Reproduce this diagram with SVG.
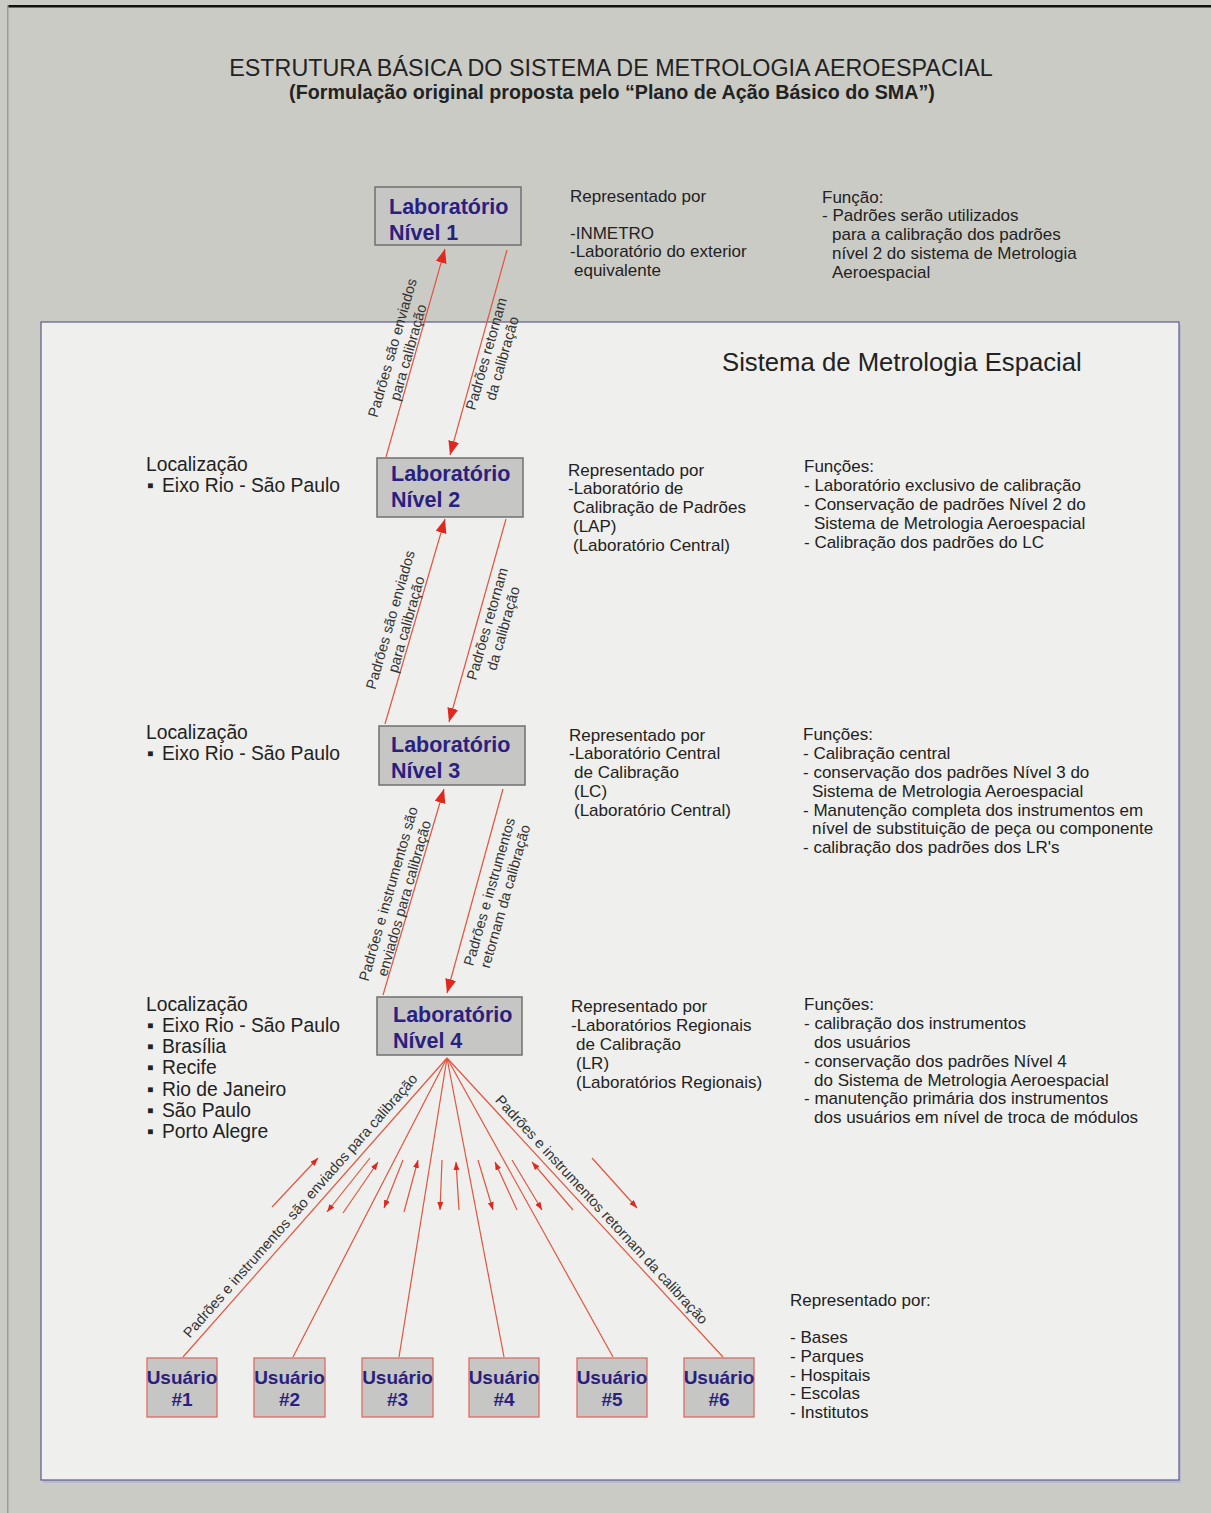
<svg xmlns="http://www.w3.org/2000/svg" width="1211" height="1513" viewBox="0 0 1211 1513">
<style>
.t{font-family:"Liberation Sans",Arial,sans-serif;fill:#222;}
.b{font-size:17px;}
.loc{font-size:19.3px;}
.lab{font-family:"Liberation Sans",Arial,sans-serif;font-size:21.5px;font-weight:bold;fill:#2b1f80;}
.usr{font-family:"Liberation Sans",Arial,sans-serif;font-size:19px;font-weight:bold;fill:#2b1f80;text-anchor:middle;}
.lbl{font-family:"Liberation Sans",Arial,sans-serif;font-size:14.5px;fill:#333;text-anchor:middle;}
.labbox{fill:#c6c6c5;stroke:#707070;stroke-width:1.5;}
.usrbox{fill:#c6c6c5;stroke:#e06a60;stroke-width:1.3;}
.ln{stroke:#e2553f;stroke-width:1.2;fill:none;}
</style>
<defs>
<marker id="big" markerUnits="userSpaceOnUse" markerWidth="16" markerHeight="12" refX="14" refY="5.5" orient="auto">
<path d="M0,0 L14,5.5 L0,11 z" fill="#e0281e"/>
</marker>
<marker id="sm" markerUnits="userSpaceOnUse" markerWidth="9" markerHeight="7" refX="8" refY="3" orient="auto">
<path d="M0,0 L8,3 L0,6 z" fill="#e0281e"/>
</marker>
</defs>

<rect x="0" y="0" width="1211" height="1513" fill="#cbcbc6"/>
<rect x="7" y="5" width="1204" height="2.5" fill="#111"/>
<rect x="7" y="5" width="1.5" height="1508" fill="#9a9a98"/>

<rect x="43" y="325" width="1138" height="1158" fill="#b9b9cc"/>
<rect x="41" y="322" width="1138" height="1158" fill="#efefed" stroke="#5c5c8c" stroke-width="1.2"/>

<g id="title">
<text class="t" x="611" y="76" font-size="23.3" text-anchor="middle" fill="#1e1e1e">ESTRUTURA BÁSICA DO SISTEMA DE METROLOGIA AEROESPACIAL</text>
<text class="t" x="612" y="99" font-size="19.7" font-weight="bold" text-anchor="middle" fill="#1e1e1e">(Formulação original proposta pelo “Plano de Ação Básico do SMA”)</text>
</g>

<text id="sistema" class="t" x="722" y="371" font-size="25.7" fill="#1a1a1a">Sistema de Metrologia Espacial</text>

<g id="connectors">
<path class="ln" d="M386,457 L445,249" marker-end="url(#big)"/>
<path class="ln" d="M507,250 L450,455" marker-end="url(#big)"/>
<path class="ln" d="M385,724 L445,519" marker-end="url(#big)"/>
<path class="ln" d="M506,519 L449,722" marker-end="url(#big)"/>
<path class="ln" d="M383,995 L444,789" marker-end="url(#big)"/>
<path class="ln" d="M503,789 L447,993" marker-end="url(#big)"/>

<path class="ln" d="M447,1058 L183,1357"/>
<path class="ln" d="M447,1058 L293,1357"/>
<path class="ln" d="M447,1058 L399,1357"/>
<path class="ln" d="M447,1058 L504,1357"/>
<path class="ln" d="M447,1058 L613,1357"/>
<path class="ln" d="M447,1058 L723,1357"/>

<path class="ln" d="M272,1207 L318,1158" marker-end="url(#sm)"/>
<path class="ln" d="M370,1158 L327,1212" marker-end="url(#sm)"/>
<path class="ln" d="M343,1213 L378,1162" marker-end="url(#sm)"/>
<path class="ln" d="M403,1160 L384,1208" marker-end="url(#sm)"/>
<path class="ln" d="M404,1212 L418,1160" marker-end="url(#sm)"/>
<path class="ln" d="M442,1160 L440,1210" marker-end="url(#sm)"/>
<path class="ln" d="M459,1210 L456,1162" marker-end="url(#sm)"/>
<path class="ln" d="M478,1160 L493,1210" marker-end="url(#sm)"/>
<path class="ln" d="M517,1210 L495,1162" marker-end="url(#sm)"/>
<path class="ln" d="M512,1160 L542,1210" marker-end="url(#sm)"/>
<path class="ln" d="M573,1210 L532,1162" marker-end="url(#sm)"/>
<path class="ln" d="M592,1158 L637,1208" marker-end="url(#sm)"/>

<text class="lbl" transform="translate(400,350) rotate(-74)"><tspan x="0" y="-3">Padrões são enviados</tspan><tspan x="0" y="13.5">para calibração</tspan></text>
<text class="lbl" transform="translate(494,356) rotate(-74)"><tspan x="0" y="-3">Padrões retornam</tspan><tspan x="0" y="13.5">da calibração</tspan></text>
<text class="lbl" transform="translate(398,622) rotate(-74)"><tspan x="0" y="-3">Padrões são enviados</tspan><tspan x="0" y="13.5">para calibração</tspan></text>
<text class="lbl" transform="translate(495,626) rotate(-74)"><tspan x="0" y="-3">Padrões retornam</tspan><tspan x="0" y="13.5">da calibração</tspan></text>
<text class="lbl" transform="translate(396,896) rotate(-74)"><tspan x="0" y="-3">Padrões e instrumentos são</tspan><tspan x="0" y="13.5">enviados para calibração</tspan></text>
<text class="lbl" transform="translate(497,894) rotate(-74)"><tspan x="0" y="-3">Padrões e instrumentos</tspan><tspan x="0" y="13.5">retornam da  calibração</tspan></text>
<text class="lbl" transform="translate(304,1209) rotate(-48.6)">Padrões e instrumentos são enviados para calibração</text>
<text class="lbl" transform="translate(598,1213) rotate(47.3)">Padrões e instrumentos retornam da calibração</text>
</g>

<g id="lab1">
<rect class="labbox" x="375" y="187" width="146" height="58"/>
<text class="lab" x="389" y="214">Laboratório</text>
<text class="lab" x="389" y="240">Nível 1</text>
</g>
<g id="lab2">
<rect class="labbox" x="377" y="458" width="146" height="59"/>
<text class="lab" x="391" y="481">Laboratório</text>
<text class="lab" x="391" y="507">Nível 2</text>
</g>
<g id="lab3">
<rect class="labbox" x="379" y="726" width="146" height="59"/>
<text class="lab" x="391" y="752">Laboratório</text>
<text class="lab" x="391" y="778">Nível 3</text>
</g>
<g id="lab4">
<rect class="labbox" x="377" y="997" width="145" height="58"/>
<text class="lab" x="393" y="1022">Laboratório</text>
<text class="lab" x="393" y="1048">Nível 4</text>
</g>

<g id="usr1"><rect class="usrbox" x="147" y="1358" width="70" height="59"/><text class="usr" x="182" y="1384">Usuário</text><text class="usr" x="182" y="1406">#1</text></g>
<g id="usr2"><rect class="usrbox" x="254" y="1358" width="71" height="59"/><text class="usr" x="289.5" y="1384">Usuário</text><text class="usr" x="289.5" y="1406">#2</text></g>
<g id="usr3"><rect class="usrbox" x="362" y="1358" width="71" height="59"/><text class="usr" x="397.5" y="1384">Usuário</text><text class="usr" x="397.5" y="1406">#3</text></g>
<g id="usr4"><rect class="usrbox" x="469" y="1358" width="70" height="59"/><text class="usr" x="504" y="1384">Usuário</text><text class="usr" x="504" y="1406">#4</text></g>
<g id="usr5"><rect class="usrbox" x="577" y="1358" width="70" height="59"/><text class="usr" x="612" y="1384">Usuário</text><text class="usr" x="612" y="1406">#5</text></g>
<g id="usr6"><rect class="usrbox" x="684" y="1358" width="70" height="59"/><text class="usr" x="719" y="1384">Usuário</text><text class="usr" x="719" y="1406">#6</text></g>

<g id="info1">
<text class="t b" x="570" y="202">Representado por</text>
<text class="t b" x="570" y="239">-INMETRO</text>
<text class="t b" x="570" y="257">-Laboratório do exterior</text>
<text class="t b" x="574" y="276">equivalente</text>
<text class="t b" x="822" y="203">Função:</text>
<text class="t b" x="822" y="221">- Padrões serão utilizados</text>
<text class="t b" x="832" y="240">para a calibração dos padrões</text>
<text class="t b" x="832" y="259">nível 2 do sistema de Metrologia</text>
<text class="t b" x="832" y="278">Aeroespacial</text>
</g>

<g id="info2">
<text class="t loc" x="146" y="471">Localização</text>
<text class="t loc" x="147" y="492">▪</text><text class="t loc" x="162" y="492">Eixo Rio - São Paulo</text>
<text class="t b" x="568" y="476">Representado por</text>
<text class="t b" x="568" y="494">-Laboratório de</text>
<text class="t b" x="573" y="513">Calibração de Padrões</text>
<text class="t b" x="573" y="532">(LAP)</text>
<text class="t b" x="573" y="551">(Laboratório Central)</text>
<text class="t b" x="804" y="472">Funções:</text>
<text class="t b" x="804" y="491">- Laboratório exclusivo de calibração</text>
<text class="t b" x="804" y="510">- Conservação de padrões Nível 2 do</text>
<text class="t b" x="814" y="529">Sistema de Metrologia Aeroespacial</text>
<text class="t b" x="804" y="548">- Calibração dos padrões do LC</text>
</g>

<g id="info3">
<text class="t loc" x="146" y="739">Localização</text>
<text class="t loc" x="147" y="760">▪</text><text class="t loc" x="162" y="760">Eixo Rio - São Paulo</text>
<text class="t b" x="569" y="741">Representado por</text>
<text class="t b" x="569" y="759">-Laboratório Central</text>
<text class="t b" x="574" y="778">de Calibração</text>
<text class="t b" x="574" y="797">(LC)</text>
<text class="t b" x="574" y="816">(Laboratório Central)</text>
<text class="t b" x="803" y="740">Funções:</text>
<text class="t b" x="803" y="759">- Calibração central</text>
<text class="t b" x="803" y="778">- conservação dos padrões Nível 3 do</text>
<text class="t b" x="812" y="797">Sistema de Metrologia Aeroespacial</text>
<text class="t b" x="803" y="816">- Manutenção completa dos instrumentos em</text>
<text class="t b" x="812" y="834">nível de substituição de peça ou componente</text>
<text class="t b" x="803" y="853">- calibração dos padrões dos LR's</text>
</g>

<g id="info4">
<text class="t loc" x="146" y="1011">Localização</text>
<text class="t loc" x="147" y="1032">▪</text><text class="t loc" x="162" y="1032">Eixo Rio - São Paulo</text>
<text class="t loc" x="147" y="1053">▪</text><text class="t loc" x="162" y="1053">Brasília</text>
<text class="t loc" x="147" y="1074">▪</text><text class="t loc" x="162" y="1074">Recife</text>
<text class="t loc" x="147" y="1096">▪</text><text class="t loc" x="162" y="1096">Rio de Janeiro</text>
<text class="t loc" x="147" y="1117">▪</text><text class="t loc" x="162" y="1117">São Paulo</text>
<text class="t loc" x="147" y="1138">▪</text><text class="t loc" x="162" y="1138">Porto Alegre</text>
<text class="t b" x="571" y="1012">Representado por</text>
<text class="t b" x="571" y="1031">-Laboratórios Regionais</text>
<text class="t b" x="576" y="1050">de Calibração</text>
<text class="t b" x="576" y="1069">(LR)</text>
<text class="t b" x="576" y="1088">(Laboratórios Regionais)</text>
<text class="t b" x="804" y="1010">Funções:</text>
<text class="t b" x="804" y="1029">- calibração dos instrumentos</text>
<text class="t b" x="814" y="1048">dos usuários</text>
<text class="t b" x="804" y="1067">- conservação dos padrões Nível 4</text>
<text class="t b" x="814" y="1086">do Sistema de Metrologia Aeroespacial</text>
<text class="t b" x="804" y="1104">- manutenção primária dos instrumentos</text>
<text class="t b" x="814" y="1123">dos usuários em nível de troca de módulos</text>
</g>

<g id="info5">
<text class="t b" x="790" y="1306">Representado por:</text>
<text class="t b" x="790" y="1343">- Bases</text>
<text class="t b" x="790" y="1362">- Parques</text>
<text class="t b" x="790" y="1381">- Hospitais</text>
<text class="t b" x="790" y="1399">- Escolas</text>
<text class="t b" x="790" y="1418">- Institutos</text>
</g>
</svg>
